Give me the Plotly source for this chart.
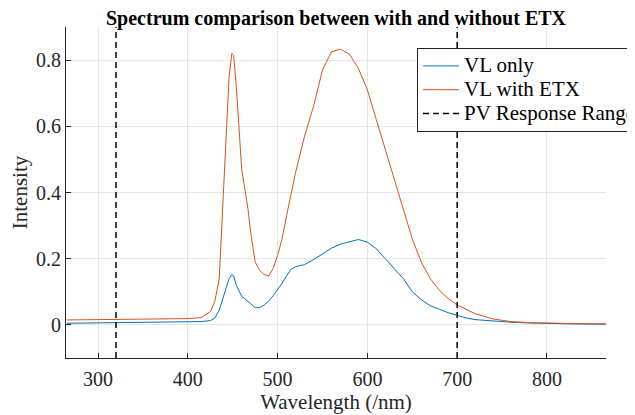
import plotly.graph_objects as go

wavelength = [265, 300, 350, 400, 415, 425, 430, 435, 440, 443, 446, 449, 451, 454, 457, 460,
              463, 467, 470, 475, 480, 485, 490, 495, 500, 505, 510, 515, 520, 530, 540, 550,
              560, 570, 580, 590, 600, 610, 620, 630, 640, 650, 660, 670, 680, 690, 700, 710,
              720, 740, 760, 780, 800, 830, 866]

vl_with_etx = [0.015, 0.016, 0.017, 0.019, 0.022, 0.04, 0.07, 0.14, 0.42, 0.61, 0.75, 0.82, 0.815,
               0.72, 0.6, 0.47, 0.42, 0.35, 0.28, 0.19, 0.165, 0.152, 0.148, 0.17, 0.21, 0.26,
               0.33, 0.40, 0.46, 0.57, 0.66, 0.77, 0.825, 0.833, 0.818, 0.775, 0.71, 0.62, 0.53,
               0.44, 0.35, 0.26, 0.19, 0.14, 0.105, 0.08, 0.06, 0.046, 0.034, 0.018, 0.01, 0.007,
               0.005, 0.004, 0.003]

vl_only = [0.005, 0.006, 0.007, 0.008, 0.01, 0.013, 0.02, 0.045, 0.09, 0.116, 0.14, 0.152, 0.148,
           0.12, 0.1, 0.086, 0.08, 0.072, 0.064, 0.052, 0.052, 0.06, 0.072, 0.088, 0.106, 0.126,
           0.148, 0.168, 0.176, 0.182, 0.197, 0.215, 0.232, 0.244, 0.252, 0.258, 0.25, 0.23, 0.2,
           0.17, 0.14, 0.1, 0.076, 0.058, 0.047, 0.037, 0.029, 0.021, 0.016, 0.011, 0.008, 0.006,
           0.004, 0.003, 0.002]

series_names = ["VL only", "VL with ETX", "PV Response Range"]
pv_range = [320, 700]
x_range = [264.3, 865.8]
y_range = [-0.1, 0.9]
x_ticks = [300, 400, 500, 600, 700, 800]
y_ticks = [0, 0.2, 0.4, 0.6, 0.8]

FONT = "Liberation Serif, Times New Roman, serif"


def legend_label(s):
    # larger legend text on a tighter (MATLAB-like) row spacing
    return '<span style="font-size:21px">' + s + "</span>"


fig = go.Figure()
fig.add_trace(go.Scatter(x=wavelength, y=vl_only, mode="lines", name=legend_label(series_names[0]),
                         line=dict(color="#0072BD", width=1)))
fig.add_trace(go.Scatter(x=wavelength, y=vl_with_etx, mode="lines", name=legend_label(series_names[1]),
                         line=dict(color="#D95319", width=1)))
vx, vy = [], []
for p in pv_range:
    vx += [p, p, None]
    vy += [y_range[0], y_range[1], None]
fig.add_trace(go.Scatter(x=vx, y=vy, mode="lines", name=legend_label(series_names[2]),
                         line=dict(color="black", width=1.5, dash="6px,4px")))

# The page body has an 8px default margin, so the figure is offset by 8px.
W, H = 627, 407
ML, MR, MT, MB = 58, 29, 19, 57

tickfont = dict(family=FONT, size=20, color="#262626")
fig.update_layout(
    width=W, height=H,
    margin=dict(l=ML, r=MR, t=MT, b=MB, autoexpand=False),
    paper_bgcolor="white", plot_bgcolor="white",
    font=dict(family=FONT, size=20, color="#262626"),
    title=dict(text="<b>Spectrum comparison between with and without ETX</b>",
               xref="paper", x=0.5, xanchor="center",
               yref="container", y=1 - 3 / H, yanchor="top",
               automargin=False, pad=dict(t=0, b=0),
               font=dict(family=FONT, size=20, color="black")),
    showlegend=True,
    legend=dict(x=(417 - 66) / 540, y=(358 - 48) / 331, xanchor="left", yanchor="top",
                bgcolor="white", bordercolor="#262626", borderwidth=1,
                font=dict(family=FONT, size=16, color="black"),
                tracegroupgap=0, itemwidth=36),
    xaxis=dict(range=x_range, tickvals=x_ticks, showgrid=True, gridcolor="#e6e6e6",
               showline=True, linecolor="#262626", linewidth=1, ticks="inside",
               ticklen=5, tickcolor="#262626", zeroline=False, automargin=False,
               tickfont=tickfont, ticklabelstandoff=3,
               title=dict(text="Wavelength (/nm)", standoff=2,
                          font=dict(family=FONT, size=21, color="#262626"))),
    yaxis=dict(range=y_range, tickvals=y_ticks, ticktext=["0", "0.2", "0.4", "0.6", "0.8"],
               showgrid=True, gridcolor="#e6e6e6",
               showline=True, linecolor="#262626", linewidth=1, ticks="inside",
               ticklen=5, tickcolor="#262626", zeroline=False, automargin=False,
               tickfont=tickfont,
               title=dict(text="Intensity", standoff=10,
                          font=dict(family=FONT, size=21, color="#262626"))),
)

fig.write_html("out.html")
